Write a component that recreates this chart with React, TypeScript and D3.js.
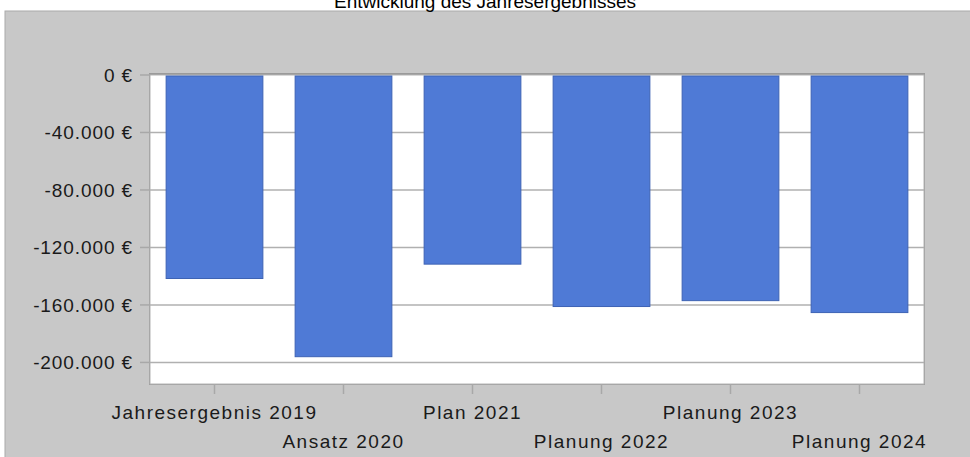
import * as d3 from "d3";
import { useEffect, useRef } from "react";

const categories = [
  "Jahresergebnis 2019",
  "Ansatz 2020",
  "Plan 2021",
  "Planung 2022",
  "Planung 2023",
  "Planung 2024",
];
const values = [-141600, -196000, -131600, -161100, -157000, -165300];
const yTicks = [0, -40000, -80000, -120000, -160000, -200000];
const title = "Entwicklung des Jahresergebnisses";

const W = 970;
const H = 457;

function BarChart() {
  const ref = useRef<SVGSVGElement>(null);

  useEffect(() => {
    const svg = d3.select(ref.current);
    svg.selectAll("*").remove();

    const left = 150;
    const right = 924;
    const top = 75;
    const bottom = 384;

    const de = d3.formatLocale({
      decimal: ",",
      thousands: ".",
      grouping: [3],
      currency: ["", " €"],
      minus: "-",
    });
    const fmt = de.format(",");

    const x = d3.scaleBand().domain(categories).range([left, right]).padding(0.25).paddingOuter(0.125);
    const y = d3.scaleLinear().domain([-215000, 0]).range([bottom, top]);

    svg.append("rect").attr("width", W).attr("height", H).attr("fill", "#fff");
    // gray panel
    svg.append("rect").attr("x", 5).attr("y", 11).attr("width", W).attr("height", H)
      .attr("fill", "#c8c8c8").attr("stroke", "#aaa");

    svg.append("text").attr("x", 485).attr("y", 8).attr("text-anchor", "middle")
      .attr("font-family", "Liberation Sans, Arial, sans-serif").attr("font-size", 19)
      .attr("fill", "#000").text(title);

    // plot shadow + area
    svg.append("rect").attr("x", left - 1).attr("y", top - 2).attr("width", right - left + 2).attr("height", bottom - top + 3)
      .attr("fill", "#9a9a9a");
    svg.append("rect").attr("x", left).attr("y", top).attr("width", right - left).attr("height", bottom - top)
      .attr("fill", "#fff").attr("stroke", "#b4b4b4");

    const g = svg.append("g").attr("font-family", "Liberation Sans, Arial, sans-serif");

    // gridlines + y ticks
    yTicks.forEach((t) => {
      if (t !== 0) {
        g.append("line").attr("x1", left).attr("x2", right).attr("y1", y(t)).attr("y2", y(t))
          .attr("stroke", "#b0b0b0").attr("stroke-width", 1.5);
      }
      g.append("line").attr("x1", left - 10).attr("x2", left).attr("y1", y(t)).attr("y2", y(t))
        .attr("stroke", "#a8a8a8").attr("stroke-width", 1.5);
      g.append("text").attr("x", 133).attr("y", y(t)).attr("dy", "0.35em").attr("text-anchor", "end")
        .attr("font-size", 19).attr("letter-spacing", 0.9).attr("fill", "#1a1a1a").text(fmt(t) + " €");
    });

    // bars
    g.selectAll("rect.bar").data(values).join("rect").attr("class", "bar")
      .attr("x", (_, i) => x(categories[i])!)
      .attr("y", y(0) + 1)
      .attr("width", x.bandwidth())
      .attr("height", (d) => y(d) - y(0) - 1)
      .attr("fill", "#4f7ad6").attr("stroke", "#3d62b4").attr("stroke-width", 1);

    // x ticks + staggered labels
    categories.forEach((c, i) => {
      const cx = x(c)! + x.bandwidth() / 2;
      g.append("line").attr("x1", cx).attr("x2", cx).attr("y1", bottom).attr("y2", bottom + 10)
        .attr("stroke", "#a8a8a8").attr("stroke-width", 1.5);
      g.append("text").attr("x", cx).attr("y", i % 2 === 0 ? 419 : 448).attr("text-anchor", "middle")
        .attr("font-size", 19).attr("letter-spacing", 1.5).attr("fill", "#1a1a1a").text(c);
    });
  }, []);

  return <svg ref={ref} width={W} height={H} style={{ position: "absolute", left: 0, top: 0 }} />;
}

export default function App() {
  return <BarChart />;
}
